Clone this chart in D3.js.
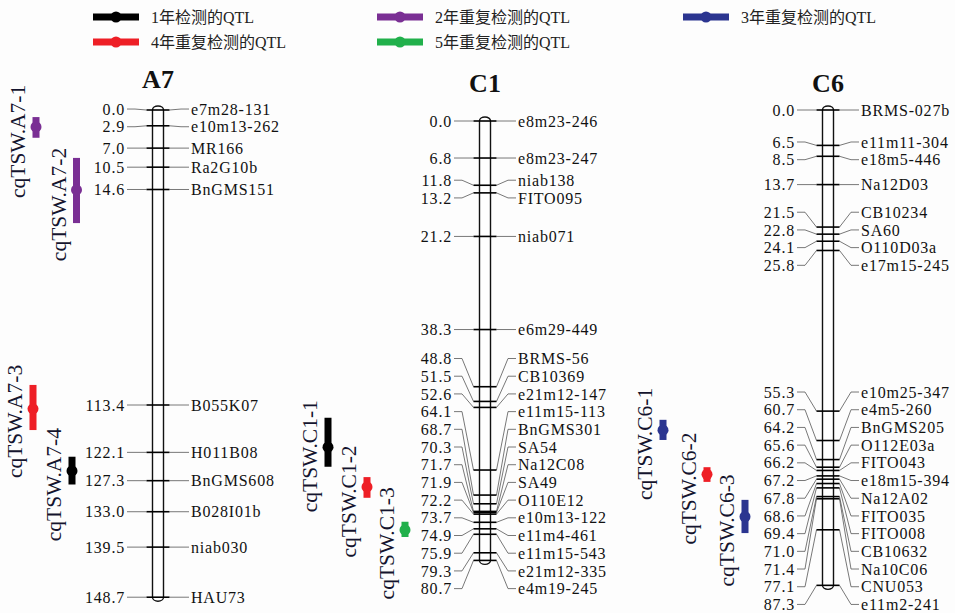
<!DOCTYPE html>
<html><head><meta charset="utf-8">
<script src="https://cdn.jsdelivr.net/npm/d3@7"></script>
<style>body{margin:0;background:#fff}svg{display:block}</style>
</head><body><svg id="chart" width="955" height="613"></svg>
<script>
// ---------------- DATA ----------------
const legendLabels = ["1年检测的QTL", "2年重复检测的QTL", "3年重复检测的QTL", "4年重复检测的QTL", "5年重复检测的QTL"];
const legendColors = ["#000000", "#7a2f94", "#2b3590", "#ee1f26", "#21b04b"];

const chromosomeNames = ["A7", "C1", "C6"];

const a7MarkerNames = ["e7m28-131", "e10m13-262", "MR166", "Ra2G10b", "BnGMS151", "B055K07", "H011B08", "BnGMS608", "B028I01b", "niab030", "HAU73"];
const a7MarkerPos = [0.0, 2.9, 7.0, 10.5, 14.6, 113.4, 122.1, 127.3, 133.0, 139.5, 148.7];

const c1MarkerNames = ["e8m23-246", "e8m23-247", "niab138", "FITO095", "niab071", "e6m29-449", "BRMS-56", "CB10369", "e21m12-147", "e11m15-113", "BnGMS301", "SA54", "Na12C08", "SA49", "O110E12", "e10m13-122", "e11m4-461", "e11m15-543", "e21m12-335", "e4m19-245"];
const c1MarkerPos = [0.0, 6.8, 11.8, 13.2, 21.2, 38.3, 48.8, 51.5, 52.6, 64.1, 68.7, 70.3, 71.7, 71.9, 72.2, 73.7, 74.9, 75.9, 79.3, 80.7];

const c6MarkerNames = ["BRMS-027b", "e11m11-304", "e18m5-446", "Na12D03", "CB10234", "SA60", "O110D03a", "e17m15-245", "e10m25-347", "e4m5-260", "BnGMS205", "O112E03a", "FITO043", "e18m15-394", "Na12A02", "FITO035", "FITO008", "CB10632", "Na10C06", "CNU053", "e11m2-241"];
const c6MarkerPos = [0.0, 6.5, 8.5, 13.7, 21.5, 22.8, 24.1, 25.8, 55.3, 60.7, 64.2, 65.6, 66.2, 67.2, 67.8, 68.6, 69.4, 71.0, 71.4, 77.1, 87.3];

const qtlNames = ["cqTSW.A7-1", "cqTSW.A7-2", "cqTSW.A7-3", "cqTSW.A7-4", "cqTSW.C1-1", "cqTSW.C1-2", "cqTSW.C1-3", "cqTSW.C6-1", "cqTSW.C6-2", "cqTSW.C6-3"];
const qtlChromosome = ["A7", "A7", "A7", "A7", "C1", "C1", "C1", "C6", "C6", "C6"];
const qtlStart = [1.3, 8.8, 104.2, 122.9, 54.5, 65.4, 73.6, 56.9, 65.6, 71.6];
const qtlPeak  = [3.1, 14.8, 114.1, 125.5, 59.9, 67.2, 75.1, 58.8, 66.9, 74.7];
const qtlEnd   = [5.1, 30.0, 118.0, 128.0, 63.5, 69.2, 76.4, 60.6, 68.3, 77.7];
const qtlYears = [2, 2, 4, 1, 1, 4, 5, 3, 4, 3];

// ---------------- LAYOUT ----------------
const W = 955, H = 613;
const pxPerCM = 5.445;
const serif = "'Liberation Serif','Times New Roman',serif";
const cjk = "'Liberation Serif','Noto Sans CJK SC',serif";
const chromX = d3.scaleOrdinal().domain(chromosomeNames).range([158, 485, 828]);
const titleY = d3.scaleOrdinal().domain(chromosomeNames).range([88, 92, 92]);
const markers = {
  A7: {names: a7MarkerNames, pos: a7MarkerPos},
  C1: {names: c1MarkerNames, pos: c1MarkerPos},
  C6: {names: c6MarkerNames, pos: c6MarkerPos}
};
// y scales; A7 is drawn with a compressed gap between 14.6 and 113.4 cM
const yScale = {
  A7: d3.scaleLinear().domain([0, 14.6, 113.4, 148.7]).range([110, 110 + 14.6 * pxPerCM, 405, 405 + 35.3 * pxPerCM]),
  C1: d3.scaleLinear().domain([0, 80.7]).range([121, 121 + 80.7 * pxPerCM]),
  C6: d3.scaleLinear().domain([0, 87.3]).range([110, 110 + 87.3 * pxPerCM])
};
const qtlColumnOffset = [-122, -81.5, -125, -86, -157, -118, -80, -165, -121, -83];
const color = d3.scaleOrdinal().domain([1, 2, 3, 4, 5]).range(legendColors);

const svg = d3.select("#chart");
svg.append("rect").attr("width", W).attr("height", H).attr("fill", "#fdfdfd");

// ---------------- LEGEND ----------------
const legX = [93, 377, 683, 93, 377];
const legY = [17, 17, 17, 42, 42];
const leg = svg.append("g");
legendLabels.forEach((lab, i) => {
  const g = leg.append("g").attr("transform", `translate(${legX[i]},${legY[i]})`);
  g.append("rect").attr("x", 0).attr("y", -3.5).attr("width", 46).attr("height", 7).attr("fill", legendColors[i]);
  g.append("circle").attr("cx", 23).attr("cy", 0).attr("r", 5.5).attr("fill", legendColors[i]);
  g.append("text").attr("x", 58).attr("y", 0).attr("dy", "0.36em")
    .attr("font-family", cjk).attr("font-size", 16).attr("fill", "#222").text(lab);
});

// ---------------- LABEL SPREADING ----------------
function spreadLabels(ys, gap) {
  let clusters = ys.map((y, i) => ({lo: y, hi: y, idx: [i]}));
  const top = c => (c.lo + c.hi) / 2 - (c.idx.length - 1) / 2 * gap;
  const bot = c => (c.lo + c.hi) / 2 + (c.idx.length - 1) / 2 * gap;
  let changed = true;
  while (changed) {
    changed = false;
    for (let i = 0; i < clusters.length - 1; i++) {
      const a = clusters[i], b = clusters[i + 1];
      if (top(b) - bot(a) < gap - 0.01) {
        clusters.splice(i, 2, {lo: a.lo, hi: b.hi, idx: a.idx.concat(b.idx)});
        changed = true;
        break;
      }
    }
  }
  const out = new Array(ys.length);
  clusters.forEach(c => c.idx.forEach((k, j) => { out[k] = top(c) + j * gap; }));
  return out;
}

// ---------------- CHROMOSOMES ----------------
const halfW = 5.5, tickHalf = 11.5, labGap = 17.7;
chromosomeNames.forEach(name => {
  const cx = chromX(name);
  const y = yScale[name];
  const m = markers[name];
  const g = svg.append("g");
  const ty = m.pos.map(p => y(p));
  const ly = spreadLabels(ty, labGap);
  const y0 = y(m.pos[0]), y1 = y(m.pos[m.pos.length - 1]);

  // title
  g.append("text").attr("x", cx).attr("y", titleY(name)).attr("text-anchor", "middle")
    .attr("font-family", serif).attr("font-weight", "bold").attr("font-size", 26).attr("fill", "#111").text(name);

  // connectors
  const line = d3.line();
  m.pos.forEach((p, i) => {
    g.append("path").attr("d", line([[cx - 31, ly[i]], [cx - 23, ly[i]], [cx - tickHalf, ty[i]]]))
      .attr("fill", "none").attr("stroke", "#555").attr("stroke-width", 0.8);
    g.append("path").attr("d", line([[cx + tickHalf, ty[i]], [cx + 23, ly[i]], [cx + 31, ly[i]]]))
      .attr("fill", "none").attr("stroke", "#555").attr("stroke-width", 0.8);
  });

  // chromosome body
  const body = `M${cx - halfW},${y0} A${halfW},4 0 0 1 ${cx + halfW},${y0} L${cx + halfW},${y1} A${halfW},4 0 0 1 ${cx - halfW},${y1} Z`;
  g.append("path").attr("d", body).attr("fill", "#fff").attr("stroke", "#111").attr("stroke-width", 1.4);

  // ticks
  g.selectAll("line.tick").data(m.pos).join("line")
    .attr("x1", cx - tickHalf).attr("x2", cx + tickHalf)
    .attr("y1", d => y(d)).attr("y2", d => y(d))
    .attr("stroke", "#000").attr("stroke-width", 1.6);

  // labels
  g.selectAll("text.pos").data(m.pos).join("text")
    .attr("x", cx - 33).attr("y", (d, i) => ly[i]).attr("dy", "0.35em")
    .attr("text-anchor", "end").attr("font-family", serif).attr("font-size", 16)
    .attr("letter-spacing", 0.8).attr("fill", "#111").text(d => d.toFixed(1));
  g.selectAll("text.name").data(m.names).join("text")
    .attr("x", cx + 33).attr("y", (d, i) => ly[i]).attr("dy", "0.35em")
    .attr("font-family", serif).attr("font-size", 16)
    .attr("letter-spacing", 0.8).attr("fill", "#111").text(d => d);
});

// ---------------- QTLs ----------------
qtlNames.forEach((q, i) => {
  const ch = qtlChromosome[i];
  const y = yScale[ch];
  const x = chromX(ch) + qtlColumnOffset[i];
  const c = color(qtlYears[i]);
  const g = svg.append("g");
  g.append("rect").attr("x", x - 3.5).attr("y", y(qtlStart[i])).attr("width", 7)
    .attr("height", y(qtlEnd[i]) - y(qtlStart[i])).attr("fill", c);
  g.append("circle").attr("cx", x).attr("cy", y(qtlPeak[i])).attr("r", 5.5).attr("fill", c);
  const midY = (y(qtlStart[i]) + y(qtlEnd[i])) / 2 + 14;
  g.append("text").attr("transform", `translate(${x - 11},${midY}) rotate(-90)`)
    .attr("text-anchor", "middle").attr("font-family", serif).attr("font-size", 21.5)
    .attr("fill", "#14142e").text(q);
});
</script>
</body></html>
